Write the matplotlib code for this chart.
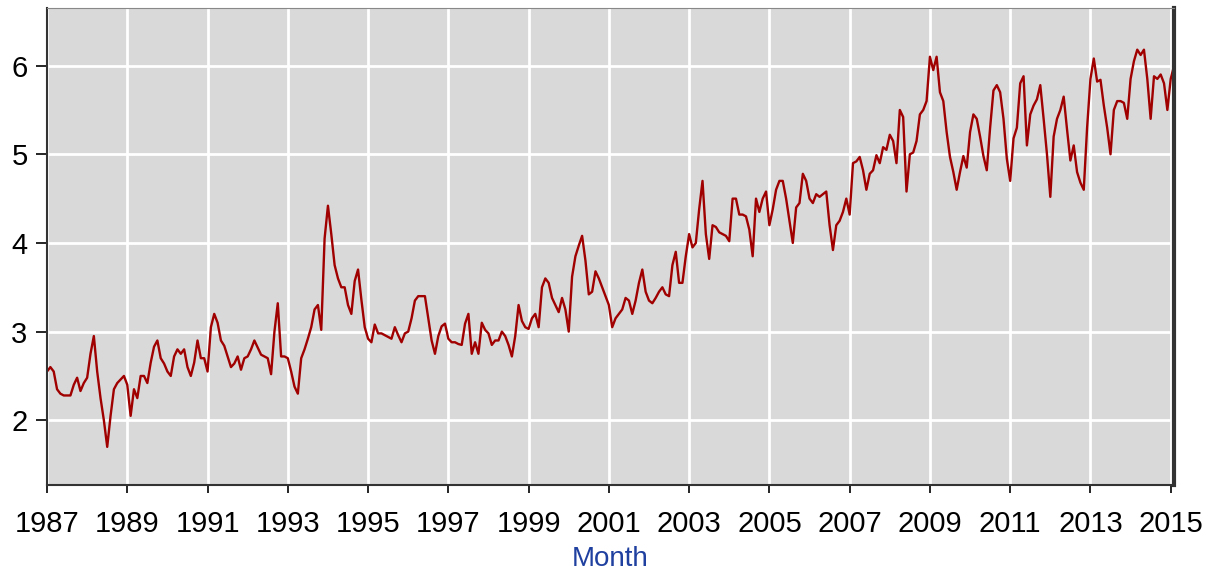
import numpy as np
import matplotlib
matplotlib.use("Agg")
import matplotlib.pyplot as plt

# monthly values, Jan 1987 .. Feb 2015
y1987 = [2.55, 2.6, 2.55, 2.35, 2.3, 2.28, 2.28, 2.28, 2.4, 2.48, 2.33, 2.42]
y1988 = [2.48, 2.75, 2.95, 2.55, 2.25, 2.0, 1.7, 2.05, 2.35, 2.42, 2.46, 2.5]
y1989 = [2.4, 2.05, 2.35, 2.25, 2.5, 2.5, 2.42, 2.65, 2.83, 2.9, 2.7, 2.64]
y1990 = [2.55, 2.5, 2.72, 2.8, 2.75, 2.8, 2.6, 2.5, 2.65, 2.9, 2.7, 2.7]
y1991 = [2.55, 3.05, 3.2, 3.1, 2.9, 2.84, 2.72, 2.6, 2.64, 2.72, 2.57, 2.7]
y1992 = [2.72, 2.8, 2.9, 2.82, 2.74, 2.72, 2.7, 2.52, 3.0, 3.32, 2.72, 2.72]
y1993 = [2.7, 2.55, 2.38, 2.3, 2.7, 2.8, 2.92, 3.05, 3.25, 3.3, 3.02, 4.05]
y1994 = [4.42, 4.1, 3.75, 3.6, 3.5, 3.5, 3.3, 3.2, 3.57, 3.7, 3.36, 3.05]
y1995 = [2.92, 2.88, 3.08, 2.98, 2.98, 2.96, 2.94, 2.92, 3.05, 2.96, 2.88, 2.98]
y1996 = [3.0, 3.15, 3.35, 3.4, 3.4, 3.4, 3.15, 2.9, 2.75, 2.95, 3.06, 3.09]
y1997 = [2.92, 2.88, 2.88, 2.86, 2.85, 3.09, 3.2, 2.75, 2.88, 2.75, 3.1, 3.02]
y1998 = [2.98, 2.85, 2.9, 2.9, 3.0, 2.95, 2.85, 2.72, 2.95, 3.3, 3.12, 3.05]
y1999 = [3.03, 3.15, 3.2, 3.05, 3.5, 3.6, 3.55, 3.38, 3.3, 3.22, 3.38, 3.25]
y2000 = [3.0, 3.62, 3.85, 3.97, 4.08, 3.8, 3.42, 3.45, 3.68, 3.6, 3.5, 3.4]
y2001 = [3.3, 3.05, 3.15, 3.2, 3.25, 3.38, 3.35, 3.2, 3.35, 3.55, 3.7, 3.45]
y2002 = [3.35, 3.32, 3.38, 3.45, 3.5, 3.42, 3.4, 3.75, 3.9, 3.55, 3.55, 3.85]
y2003 = [4.1, 3.95, 4.0, 4.38, 4.7, 4.1, 3.82, 4.2, 4.18, 4.12, 4.1, 4.08]
y2004 = [4.02, 4.5, 4.5, 4.32, 4.32, 4.3, 4.15, 3.85, 4.5, 4.35, 4.5, 4.58]
y2005 = [4.2, 4.38, 4.6, 4.7, 4.7, 4.5, 4.25, 4.0, 4.4, 4.45, 4.78, 4.7]
y2006 = [4.5, 4.45, 4.55, 4.52, 4.55, 4.58, 4.2, 3.92, 4.2, 4.25, 4.35, 4.5]
y2007 = [4.32, 4.9, 4.92, 4.97, 4.82, 4.6, 4.78, 4.82, 4.99, 4.9, 5.08, 5.05]
y2008 = [5.22, 5.15, 4.9, 5.5, 5.42, 4.58, 5.0, 5.02, 5.15, 5.45, 5.5, 5.6]
y2009 = [6.1, 5.95, 6.1, 5.7, 5.6, 5.25, 4.97, 4.8, 4.6, 4.8, 4.98, 4.85]
y2010 = [5.25, 5.45, 5.4, 5.2, 4.98, 4.82, 5.3, 5.72, 5.78, 5.7, 5.4, 4.95]
y2011 = [4.7, 5.18, 5.3, 5.8, 5.88, 5.1, 5.45, 5.55, 5.62, 5.78, 5.4, 5.0]
y2012 = [4.52, 5.2, 5.4, 5.5, 5.65, 5.28, 4.93, 5.1, 4.8, 4.68, 4.6, 5.3]
y2013 = [5.85, 6.08, 5.82, 5.84, 5.55, 5.3, 5.0, 5.5, 5.6, 5.6, 5.58, 5.4]
y2014 = [5.85, 6.05, 6.18, 6.12, 6.18, 5.85, 5.4, 5.88, 5.85, 5.9, 5.8, 5.5]
y2015 = [5.85, 6.0]

values = (y1987 + y1988 + y1989 + y1990 + y1991 + y1992 + y1993 + y1994
          + y1995 + y1996 + y1997 + y1998 + y1999 + y2000 + y2001 + y2002
          + y2003 + y2004 + y2005 + y2006 + y2007 + y2008 + y2009 + y2010
          + y2011 + y2012 + y2013 + y2014 + y2015)
years = 1987 + np.arange(len(values)) / 12.0

xticks = list(range(1987, 2016, 2))
yticks = [2, 3, 4, 5, 6]

plt.rcParams['font.family'] = ['Liberation Sans', 'DejaVu Sans']

fig = plt.figure(figsize=(12.15, 5.71), dpi=100)
ax = fig.add_axes([0.0387, 0.1506, 0.9276, 0.8354])
ax.set_facecolor('#d9d9d9')

ax.plot(years, values, color='#a00000', linewidth=1.7)

ax.set_xlim(1987, years[-1])
ax.set_ylim(1.27, 6.65)
ax.set_xticks(xticks)
ax.set_xticklabels([str(x) for x in xticks])
ax.set_yticks(yticks)
ax.grid(True, color='white', linewidth=2)
ax.set_axisbelow(True)

ax.tick_params(axis='both', labelsize=21, color='black', length=8, width=1.2)
ax.tick_params(axis='x', length=6, pad=12)
ax.tick_params(axis='y', pad=6)
for s in ['left', 'bottom', 'right']:
    ax.spines[s].set_color('#333333')
    ax.spines[s].set_linewidth(1.5)
ax.spines['right'].set_linewidth(3)
ax.spines['top'].set_color('#888888')
ax.spines['top'].set_linewidth(0.8)

ax.set_xlabel('Month', fontsize=20, color='#2040a0', labelpad=6)

plt.savefig('out.png', dpi=100)
